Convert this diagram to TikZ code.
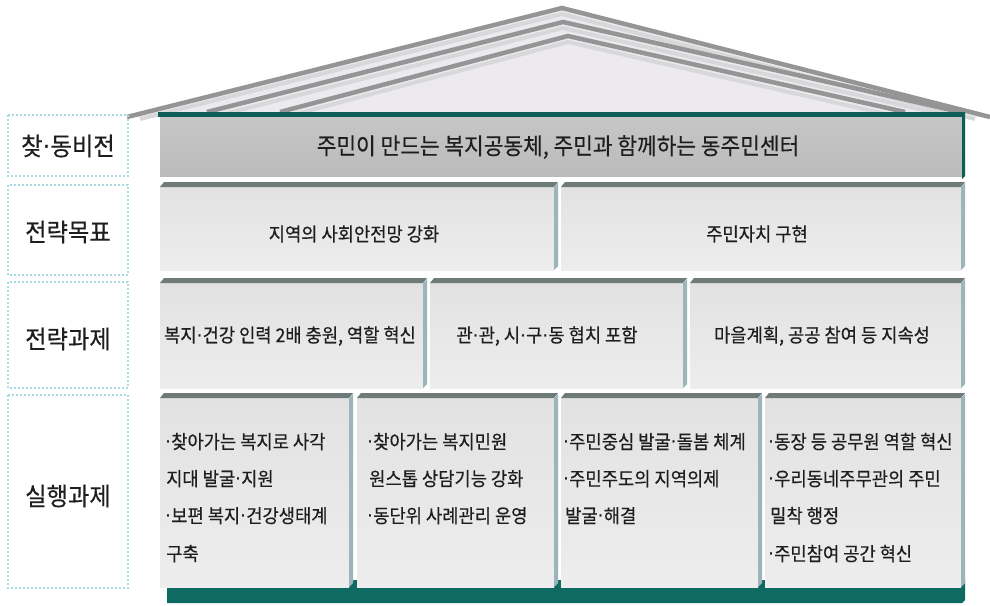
\documentclass[tikz,border=0pt]{standalone}
\usepackage{fontspec}
\newfontfamily\kr[FakeStretch=0.93,FakeBold=0.4]{Noto Sans CJK KR}
\newfontfamily\dv{DejaVu Sans}
\newcommand{\mdot}{{\dv ·}}
\definecolor{tealbar}{HTML}{0E5E57}
\definecolor{tealbase}{HTML}{0F6A63}
\definecolor{topbev}{HTML}{6E7B79}
\definecolor{sidebev}{HTML}{9DB5BA}
\definecolor{boxtop}{HTML}{E2E2E2}
\definecolor{boxbot}{HTML}{EDEDED}
\definecolor{vistop}{HTML}{C6C6C6}
\definecolor{visbot}{HTML}{BBBBBB}
\definecolor{roofline}{HTML}{959595}
\definecolor{roofband}{HTML}{D8D8DA}
\definecolor{rooffill}{HTML}{ECEAEE}
\definecolor{dotc}{HTML}{A8DCE3}
\definecolor{txt}{HTML}{1E1E1E}
\tikzset{
  labelbox/.style={draw=dotc, line width=2.6pt, dash pattern=on 1.6pt off 2.4pt},
  labeltext/.style={font=\kr\fontsize{25}{25}\selectfont, text=txt, inner sep=0pt},
  vistext/.style={font=\kr\fontsize{23}{23}\selectfont, text=txt, inner sep=0pt},
  rowtext/.style={font=\kr\fontsize{19}{19}\selectfont, text=txt, inner sep=0pt},
  linetext/.style={font=\kr\fontsize{19}{19}\selectfont, text=txt, inner sep=0pt, anchor=west, text height=15pt, text depth=3.5pt},
  roofstroke/.style={draw=roofline, line width=4.5pt, line join=miter},
  roofsoft/.style={draw=roofband, line width=4pt, line join=miter}
}
\newcommand{\housebox}[4]{%
  \fill[top color=boxtop, bottom color=boxbot] (#1,#2+5) rectangle (#3-4,#4);
  \fill[topbev] (#1,#2+5) -- (#1+4,#2) -- (#3,#2) -- (#3-4,#2+5) -- cycle;
  \fill[sidebev] (#3-4,#2+5) -- (#3,#2+1) -- (#3,#4-4) -- (#3-4,#4) -- cycle;
}
\begin{document}
\begin{tikzpicture}[x=1pt,y=-1pt]
\useasboundingbox (0,0) rectangle (990,605);
\fill[white] (0,0) rectangle (990,605);
% roof
\fill[rooffill] (127,117) -- (562,8) -- (990,117) -- cycle;
\draw[roofsoft] (140,119) -- (562,14) -- (975,119);
\draw[roofsoft] (220,115) -- (563,28) -- (945,115);
\draw[roofsoft] (292,115) -- (568,42) -- (890,115);
\draw[roofstroke] (127,117) -- (562,8) -- (990,117);
\draw[roofstroke] (207,112) -- (563,22) -- (960,112);
\draw[roofstroke] (280,112) -- (568,36) -- (905,112);
% teal base
\fill[tealbase] (167,580) -- (965,580) -- (965,600) -- (962,603) -- (167,603) -- cycle;
% vision bar
\fill[top color=vistop, bottom color=visbot] (160,117) rectangle (962,176);
\fill[tealbar] (158,112) rectangle (965,117);
\fill[tealbar] (962,112) -- (965,112) -- (965,176) -- (962,179) -- cycle;
\node[vistext] (vis) at (558,147) {주민이 만드는 복지공동체, 주민과 함께하는 동주민센터};
% row 2
\housebox{160}{182}{558}{270}
\housebox{561}{182}{965}{270}
\node[rowtext] (g1) at (354,234) {지역의 사회안전망 강화};
\node[rowtext] (g2) at (757,234) {주민자치 구현};
% row 3
\housebox{160}{278}{427}{388}
\housebox{430}{278}{687}{388}
\housebox{690}{278}{965}{388}
\node[rowtext] (s1) at (290,336) {복지\mdot 건강 인력 2배 충원, 역할 혁신};
\node[rowtext] (s2) at (547,336) {관\mdot 관, 시\mdot 구\mdot 동 협치 포함};
\node[rowtext] (s3) at (822,336) {마을계획, 공공 참여 등 지속성};
% row 4
\housebox{160}{393}{353}{587}
\housebox{357}{393}{558}{587}
\housebox{561}{393}{762}{587}
\housebox{765}{393}{965}{587}
\node[linetext] (a1) at (165,443) {\mdot 찾아가는 복지로 사각};
\node[linetext] (a2) at (166,480) {지대 발굴\mdot 지원};
\node[linetext] (a3) at (165,517) {\mdot 보편 복지\mdot 건강생태계};
\node[linetext] (a4) at (166,555) {구축};
\node[linetext] (b1) at (367,443) {\mdot 찾아가는 복지민원};
\node[linetext] (b2) at (369,480) {원스톱 상담기능 강화};
\node[linetext] (b3) at (367,517) {\mdot 동단위 사례관리 운영};
\node[linetext] (c1) at (563,443) {\mdot 주민중심 발굴\mdot 돌봄 체계};
\node[linetext] (c2) at (563,480) {\mdot 주민주도의 지역의제};
\node[linetext] (c3) at (565,517) {발굴\mdot 해결};
\node[linetext] (d1) at (768,443) {\mdot 동장 등 공무원 역할 혁신};
\node[linetext] (d2) at (768,480) {\mdot 우리동네주무관의 주민};
\node[linetext] (d3) at (770,517) {밀착 행정};
\node[linetext] (d4) at (768,555) {\mdot 주민참여 공간 혁신};
% label column
\draw[labelbox] (8,115) rectangle (128,176);
\draw[labelbox] (8,185) rectangle (128,275);
\draw[labelbox] (8,282) rectangle (128,388);
\draw[labelbox] (8,395) rectangle (128,588);
\node[labeltext] (l1) at (68,146) {찾\mdot 동비전};
\node[labeltext] (l2) at (68,232) {전략목표};
\node[labeltext] (l3) at (68,339) {전략과제};
\node[labeltext] (l4) at (68,496) {실행과제};
\end{tikzpicture}
\end{document}
